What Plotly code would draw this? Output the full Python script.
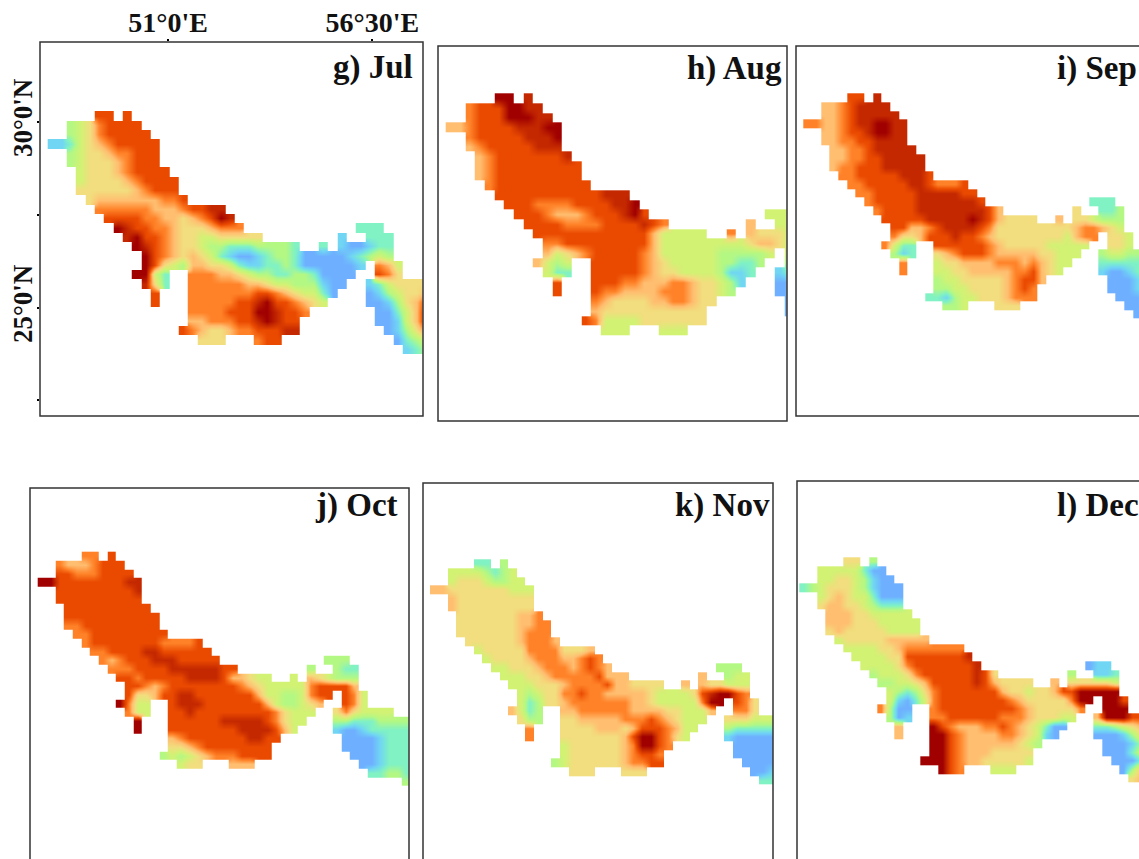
import plotly.graph_objects as go

W, H = 1139, 859

# Gridded values, coded 0 (lowest) to 9, then a (highest), '.' = no data (land)
jul = [
 ".....88.8",
 "..34578888",
 "..345788888",
 "112456788888",
 "..3455677888",
 "..3455567888",
 "...4555678888",
 "...45555678888",
 "...55555567888",
 "....56666666778",
 ".....77777766678899",
 "......888877665678a9",
 ".......a9887765556777" "............" "222",
 "........9a8876554455555" "........" "1..222",
 ".........a98765543322233332" "..2." "100122",
 "..........a87656542100123320000012343",
 "..........a85436655421122320000001" "." "764",
 ".........aa42..777665433223320000" ".." "875",
 "..........952..77777766544333100..1245555",
 "...........8...7777777887654420...0134556",
 "...........8...77777889a887654....0013568",
 "...............7777888aa9887.......002469",
 "...............66777889a988........001469",
 "..............8765567788899.........01357",
 "................555...788............0234",
 "......................................123",
]
aug = [
 ".....aa.9",
 "..7888aa99",
 "..7888aaa99",
 "66788889 99aa".replace(" ", ""),
 "..788888999a",
 "..6788888999",
 "...6788888889",
 "...67888888888",
 "...67888888888",
 "....78888888888",
 ".....88888888888999",
 "......8887777888899a",
 ".......888766678889a8" "............" "444",
 "........888877778888987" "........" "6..44",
 ".........888888888888644444" "..7." "65554",
 "..........77888888888" "6" "444444444" "56654",
 "..........645678888876" "444444" "3333" "34" "." "4",
 ".........6434..8888876" "544444" "33223" ".." "3",
 "..........422..8888876" "5544443112" ".." "12",
 "...........8...8887766677655431" "..." "00",
 "...........8...877666677765543" "...." "00",
 "...............7655556677655" "......." "0",
 "...............655555555555" "........" "0",
 "..............8744445555555",
 "................444...444",
]
sep = [
 ".....88.9",
 "..66789999",
 "..667899999",
 "77667899aa99",
 "..667889aa99",
 "..6677889999",
 "...6677899999",
 "...66778899999",
 "...67788899999",
 "....77888889998",
 ".....77888889987778",
 "......77888889999988",
 ".......78888899999998" "............" "222",
 "........788889999999986" "........" "5..223",
 ".........8888899999a9" "86" "5555" "..6." "554333",
 "..........88667899998" "7" "555555555" "677654",
 "..........755688898876" "55555555" "4" "677" "." "554",
 ".........7422..888888765555544444" ".." "554",
 "..........312..56788876666655444" ".." "3443333",
 "...........7...4556666777676544" "..." "2222223",
 "...........7...445566666778654" "...." "1001233",
 "...............3445555567886" "......." "000123",
 "...............334455556787" "........" "000123",
 "..............2213445556777" "........." "00012",
 "................334...555" "............" "0012",
 "......................................001",
]
oct_ = [
 ".....77.8",
 "..76667888",
 "..887778888",
 "aa8888888899",
 "..8888888889",
 "..8888888888",
 "...8888888888",
 "...88888888888",
 "...77888888888",
 "....77888888888",
 ".....78888888877778",
 "......77888899888888",
 ".......76788899988888" "............" "333",
 "........777888899999988" "........" "3..322",
 ".........887888889999866544" "..4." "654333",
 "..........887678888888876544444" "788886",
 "..........855688998888888644334788" "." "874",
 ".........a744..899988888886433456" ".." "874",
 "..........744..88988888888875444" ".." "5754444",
 "...........a...8888889999987544" "..." "332223333",
 "...........a...888888889999864" "...." "100122222",
 "...............6788888889988" "......." "00001222",
 "...............556788888888" "........" "00001222",
 "..............3434567778888" "........." "0001222",
 "................455...666" "............" "001222",
 "......................................22332",
 "..........................................3",
]
nov = [
 ".....22.3",
 "..44443234",
 "..455543344",
 "665555555444",
 "..6555555555",
 "..6555555555",
 "...5555555667",
 "...55555556677",
 "...55555556777",
 "....55555567776",
 ".....45555577775556",
 "......45555677766787",
 ".......44555677767876" "............" "333",
 "........444556777778666" "........" "6..344",
 ".........444555677778665555" "..6." "655444",
 "..........4345577877666665444458" "9aa87",
 "..........423556777777766544444" "7aa" "." "875",
 ".........6423..667777776666554446" ".." "775",
 "..........533..55666667778765444" ".." "5554444",
 "...........7...5555666568887644" "..." "3222222",
 "...........7...55555556 8aa8754".replace(" ", "") + "...." "1000001",
 "...............455555567aa87" "......." "000000",
 "...............455555567887" "........" "000000",
 "..............3455555567788" "........." "00001",
 "................555...555" "............" "0012",
 "......................................22",
]
dec = [
 ".....55.3",
 "..44444200",
 "..445543100",
 "234555431000",
 "..4565442000",
 "..5665543222",
 "...6665544444",
 "...66655544444",
 "...56555554444",
 "....45555566666",
 ".....44445567777777",
 "......44445588888889",
 ".......44445788888889" "............" "011",
 "........344457888888985" "........" "3..112",
 ".........334456888889865555" "..6." "555554",
 "..........4323578888888655455688aaaaa8"[:37],
 "..........410247888888887655555" "7aa" "." "aa8",
 ".........7300..788888888876555557" ".." "aaa",
 "..........301..77888888777655544" ".." "6aaa888",
 "...........6...a876667787654200" "..." "2234567",
 "...........6...aa8766667765410" "...." "0001356",
 "...............aa87666666543" "......." "000135",
 "...............aa8766655555" "........" "000246",
 "..............aaa8766555554" "........." "00026",
 "................a87...444" "............" "0367",
 "......................................56",
]

panel_names = ["g) Jul", "h) Aug", "i) Sep", "j) Oct", "k) Nov", "l) Dec"]
panel_grids = [jul, aug, sep, oct_, nov, dec]
lon_ticks = ["<b>51°0'E</b>", "<b>56°30'E</b>"]
lat_ticks = ["<b>30°0'N</b>", "", "<b>25°0'N</b>", ""]

# pixel layout: frame left, right, top, bottom; first cell left, top; cell size
frames = [
    (40, 423, 42, 416, 47.7, 111.0, 9.33),
    (438, 787, 46, 421, 445.7, 93.3, 9.67),
    (796, 1150, 46, 416, 803.3, 93.3, 8.67),
    (30, 409, 488, 870, 37.7, 551.7, 8.67),
    (423, 773, 483, 870, 430.0, 559.3, 8.65),
    (797, 1150, 481, 870, 799.3, 557.3, 8.65),
]
label_pos = [(415, 67), (784, 68), (1139, 68), (400, 506), (772, 506), (1141, 506)]

colors = ["#6eb0ff", "#70d6f4", "#80f2c4", "#b4f884", "#d2f274", "#f2de7e",
          "#ffbe70", "#ff8228", "#ea4a00", "#c42800", "#a00000"]
cscale = [[i / 10, c] for i, c in enumerate(colors)]

def code(ch):
    if ch == ".":
        return None
    return 10 if ch == "a" else int(ch)

fig = go.Figure()
for k, (grid, fr) in enumerate(zip(panel_grids, frames)):
    L, R, T, B, cx, cy, cell = fr
    n = 43
    z = [[code(ch) for ch in row.ljust(n, ".")] for row in grid]
    s = "" if k == 0 else str(k + 1)
    fig.add_trace(go.Heatmap(z=z, x=list(range(n)), y=list(range(len(z))),
                             zmin=0, zmax=10, colorscale=cscale, showscale=False,
                             zsmooth="best", hoverinfo="skip",
                             xaxis="x" + s, yaxis="y" + s))
    x_left = -0.5 - (cx - L) / cell
    y_top = -0.5 - (cy - T) / cell
    xa = dict(domain=[L / W, min(R, W) / W],
              range=[x_left, x_left + (min(R, W) - L) / cell],
              showgrid=False, zeroline=False, showticklabels=False, ticks="",
              anchor="y" + s)
    ya = dict(domain=[1 - min(B, H) / H, 1 - T / H],
              range=[y_top + (min(B, H) - T) / cell, y_top],
              showgrid=False, zeroline=False, showticklabels=False, ticks="",
              anchor="x" + s)
    if k == 0:
        xa.update(side="top", ticks="outside", ticklen=2, tickwidth=2, tickcolor="black",
                  showticklabels=True, tickmode="array", tickvals=[12.4, 34.3],
                  ticktext=lon_ticks, ticklabelstandoff=-4,
                  tickfont=dict(family="Liberation Serif", size=28, color="#111"))
        ya.update(ticks="outside", ticklen=2, tickwidth=2, tickcolor="black",
                  showticklabels=True, tickmode="array", ticklabelstandoff=-6,
                  tickvals=[0.68, 10.6, 20.6, 30.5], ticktext=lat_ticks, tickangle=-90,
                  tickfont=dict(family="Liberation Serif", size=27, color="#111"))
    fig.update_layout({"xaxis" + s: xa, "yaxis" + s: ya})
    fig.add_shape(type="rect", xref="paper", yref="paper",
                  x0=L / W, x1=R / W, y0=1 - B / H, y1=1 - T / H,
                  line=dict(color="#333", width=1.5), fillcolor="rgba(0,0,0,0)")
    lx, ly = label_pos[k]
    fig.add_annotation(text="<b>" + panel_names[k] + "</b>", xref="paper", yref="paper",
                       x=lx / W, y=1 - ly / H, xanchor="right", yanchor="middle",
                       showarrow=False,
                       font=dict(family="Liberation Serif", size=33, color="#111"))

fig.update_layout(width=W, height=H, margin=dict(l=0, r=0, t=0, b=0),
                  paper_bgcolor="white", plot_bgcolor="white", showlegend=False)
fig.write_html("out.html", config={"displayModeBar": False},
               post_script="document.body.style.margin='0';document.body.style.overflow='hidden';")
